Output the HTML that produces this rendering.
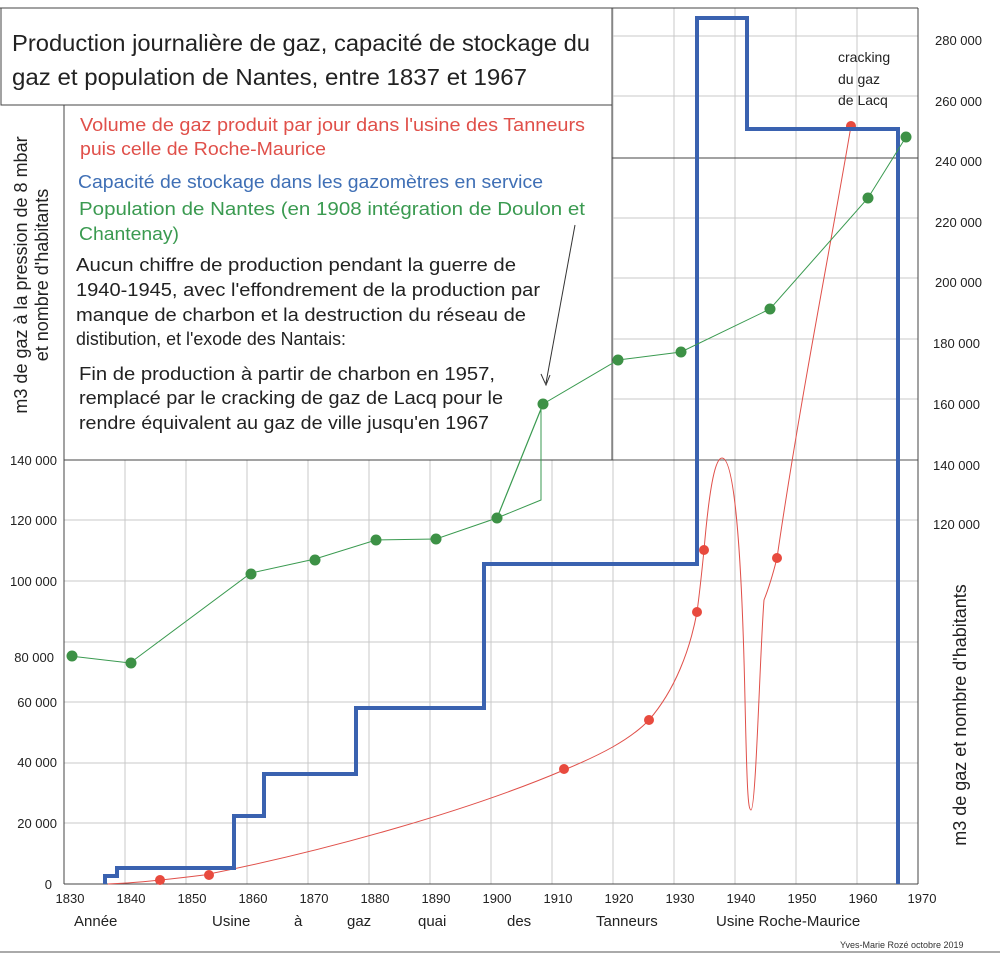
<!DOCTYPE html>
<html><head><meta charset="utf-8"><style>
body{margin:0;background:#fff;}
svg{display:block;font-family:"Liberation Sans",sans-serif;}
</style></head><body>
<svg width="1000" height="964" viewBox="0 0 1000 964" xmlns="http://www.w3.org/2000/svg">
<rect width="1000" height="964" fill="#fff"/>
<g stroke="#c8c8c8" stroke-width="1">
<line x1="125" y1="8" x2="125" y2="884"/><line x1="186" y1="8" x2="186" y2="884"/><line x1="247" y1="8" x2="247" y2="884"/><line x1="308" y1="8" x2="308" y2="884"/><line x1="369" y1="8" x2="369" y2="884"/><line x1="430" y1="8" x2="430" y2="884"/><line x1="491" y1="8" x2="491" y2="884"/><line x1="552" y1="8" x2="552" y2="884"/><line x1="613" y1="8" x2="613" y2="884"/><line x1="674" y1="8" x2="674" y2="884"/><line x1="735" y1="8" x2="735" y2="884"/><line x1="796" y1="8" x2="796" y2="884"/><line x1="857" y1="8" x2="857" y2="884"/>
<line x1="64" y1="823" x2="918" y2="823"/><line x1="64" y1="763" x2="918" y2="763"/><line x1="64" y1="702" x2="918" y2="702"/><line x1="64" y1="642" x2="918" y2="642"/><line x1="64" y1="581" x2="918" y2="581"/><line x1="64" y1="520" x2="918" y2="520"/><line x1="64" y1="399" x2="918" y2="399"/><line x1="64" y1="339" x2="918" y2="339"/><line x1="64" y1="278" x2="918" y2="278"/><line x1="64" y1="218" x2="918" y2="218"/><line x1="64" y1="96" x2="918" y2="96"/><line x1="64" y1="36" x2="918" y2="36"/>
</g>
<line x1="64" y1="460" x2="918" y2="460" stroke="#555"/>
<line x1="612" y1="158" x2="918" y2="158" stroke="#444"/>
<rect x="64" y="105" width="548" height="355" fill="#fff" stroke="#444"/>
<rect x="1" y="8" width="611" height="97" fill="#fff" stroke="#444"/>
<line x1="0" y1="8" x2="918" y2="8" stroke="#444"/>
<line x1="918" y1="8" x2="918" y2="884" stroke="#444"/>
<line x1="64" y1="105" x2="64" y2="884" stroke="#444"/>
<line x1="64" y1="884" x2="918" y2="884" stroke="#444"/>
<line x1="0" y1="952" x2="1000" y2="952" stroke="#555"/>
<text x="12" y="51" font-size="23" fill="#222" textLength="578" lengthAdjust="spacingAndGlyphs">Production journalière de gaz, capacité de stockage du</text>
<text x="12" y="85" font-size="23" fill="#222" textLength="515" lengthAdjust="spacingAndGlyphs">gaz et  population de Nantes,  entre 1837 et 1967</text>
<g font-size="18" lengthAdjust="spacingAndGlyphs">
<text x="80" y="131" fill="#e0504a" textLength="505" lengthAdjust="spacingAndGlyphs">Volume de gaz produit par jour dans l'usine des Tanneurs</text>
<text x="80" y="155" fill="#e0504a" textLength="246" lengthAdjust="spacingAndGlyphs">puis celle de Roche-Maurice</text>
<text x="78" y="188" fill="#3f6fb5" textLength="465" lengthAdjust="spacingAndGlyphs">Capacité de stockage dans les gazomètres en service</text>
<text x="79" y="215" fill="#3a9a50" textLength="506" lengthAdjust="spacingAndGlyphs">Population de Nantes (en  1908  intégration  de Doulon et</text>
<text x="79" y="240" fill="#3a9a50" textLength="100" lengthAdjust="spacingAndGlyphs">Chantenay)</text>
<text x="76" y="271" fill="#222" textLength="440" lengthAdjust="spacingAndGlyphs">Aucun chiffre de production pendant la guerre de</text>
<text x="76" y="296" fill="#222" textLength="464" lengthAdjust="spacingAndGlyphs">1940-1945,  avec l'effondrement de la production par</text>
<text x="76" y="321" fill="#222" textLength="450" lengthAdjust="spacingAndGlyphs">manque de charbon et la destruction du réseau de</text>
<text x="76" y="345" fill="#222" textLength="270" lengthAdjust="spacingAndGlyphs">distibution, et l'exode des Nantais:</text>
<text x="79" y="380" fill="#222" textLength="416" lengthAdjust="spacingAndGlyphs">Fin de production à partir de charbon en 1957,</text>
<text x="79" y="404" fill="#222" textLength="424" lengthAdjust="spacingAndGlyphs">remplacé par le cracking de gaz de Lacq pour le</text>
<text x="79" y="429" fill="#222" textLength="410" lengthAdjust="spacingAndGlyphs">rendre équivalent au gaz  de ville jusqu'en 1967</text>
</g>
<line x1="575" y1="225" x2="546" y2="383" stroke="#333"/>
<path d="M541 374 L546 385 L550 375" fill="none" stroke="#333"/>
<g font-size="13" fill="#222" text-anchor="end">
<text x="57" y="465">140 000</text><text x="57" y="525">120 000</text><text x="57" y="586">100 000</text><text x="54" y="662">80 000</text><text x="57" y="707">60 000</text><text x="57" y="767">40 000</text><text x="57" y="828">20 000</text><text x="52" y="889">0</text>
</g>
<g font-size="13" fill="#222" text-anchor="middle">
<text x="70" y="903">1830</text><text x="131" y="903">1840</text><text x="192" y="903">1850</text><text x="253" y="903">1860</text><text x="314" y="903">1870</text><text x="375" y="903">1880</text><text x="436" y="903">1890</text><text x="497" y="903">1900</text><text x="558" y="903">1910</text><text x="619" y="903">1920</text><text x="680" y="903">1930</text><text x="741" y="903">1940</text><text x="802" y="903">1950</text><text x="863" y="903">1960</text><text x="922" y="903">1970</text>
</g>
<g font-size="15" fill="#222">
<text x="74" y="926">Année</text><text x="212" y="926">Usine</text><text x="294" y="926">à</text><text x="347" y="926">gaz</text><text x="418" y="926">quai</text><text x="507" y="926">des</text><text x="596" y="926">Tanneurs</text><text x="716" y="926">Usine Roche-Maurice</text>
</g>
<text x="840" y="948" font-size="9" fill="#333">Yves-Marie Rozé octobre 2019</text>
<g font-size="13" fill="#222">
<text x="935" y="45">280 000</text><text x="935" y="106">260 000</text><text x="935" y="166">240 000</text><text x="935" y="227">220 000</text><text x="935" y="287">200 000</text><text x="933" y="348">180 000</text><text x="933" y="409">160 000</text><text x="933" y="470">140 000</text><text x="933" y="529">120 000</text>
</g>
<g font-size="14" fill="#222"><text x="838" y="62">cracking</text><text x="838" y="84">du gaz</text><text x="838" y="105">de Lacq</text></g>
<text transform="translate(27,275) rotate(-90)" font-size="18" fill="#222" text-anchor="middle">m3 de gaz à la pression de 8 mbar</text>
<text transform="translate(48,275) rotate(-90)" font-size="18" fill="#222" text-anchor="middle">et nombre d'habitants</text>
<text transform="translate(966,715) rotate(-90)" font-size="18" fill="#222" text-anchor="middle">m3 de gaz et nombre d'habitants</text>
<path d="M108 884 C140 883 180 878 204 875 C330 850 470 810 564 770 C600 755 630 740 649 720 C675 690 690 650 697 612 C700 590 702 570 704 550 C710 480 716 458 722 458 C735 458 742 560 745 700 C747 790 748 810 751 810 C756 810 760 650 764 600 C770 585 774 570 777 558 C800 400 830 250 851 126" fill="none" stroke="#e0504a" stroke-width="1"/>
<g fill="#e84a3e"><circle cx="160" cy="880" r="5"/><circle cx="209" cy="875" r="5"/><circle cx="564" cy="769" r="5"/><circle cx="649" cy="720" r="5"/><circle cx="697" cy="612" r="5"/><circle cx="704" cy="550" r="5"/><circle cx="777" cy="558" r="5"/><circle cx="851" cy="126" r="5"/></g>
<path d="M105 884 V876 H117 V868 H234 V816 H264 V774 H356 V708 H484 V564 H697 V18 H747 V129 H898 V884" fill="none" stroke="#3a62b0" stroke-width="4"/>
<polyline points="70,656 130,663 251,573 315,559 376,540 436,539 497,518 541,500 541,404 543,404 618,360 681,352 770,309 868,198 906,137" fill="none" stroke="#3a9a50" stroke-width="1"/>
<line x1="497" y1="518" x2="543" y2="404" stroke="#3a9a50" stroke-width="1.2"/>
<g fill="#3d9146"><circle cx="72" cy="656" r="5.5"/><circle cx="131" cy="663" r="5.5"/><circle cx="251" cy="574" r="5.5"/><circle cx="315" cy="560" r="5.5"/><circle cx="376" cy="540" r="5.5"/><circle cx="436" cy="539" r="5.5"/><circle cx="497" cy="518" r="5.5"/><circle cx="543" cy="404" r="5.5"/><circle cx="618" cy="360" r="5.5"/><circle cx="681" cy="352" r="5.5"/><circle cx="770" cy="309" r="5.5"/><circle cx="868" cy="198" r="5.5"/><circle cx="906" cy="137" r="5.5"/></g>
</svg>
</body></html>
